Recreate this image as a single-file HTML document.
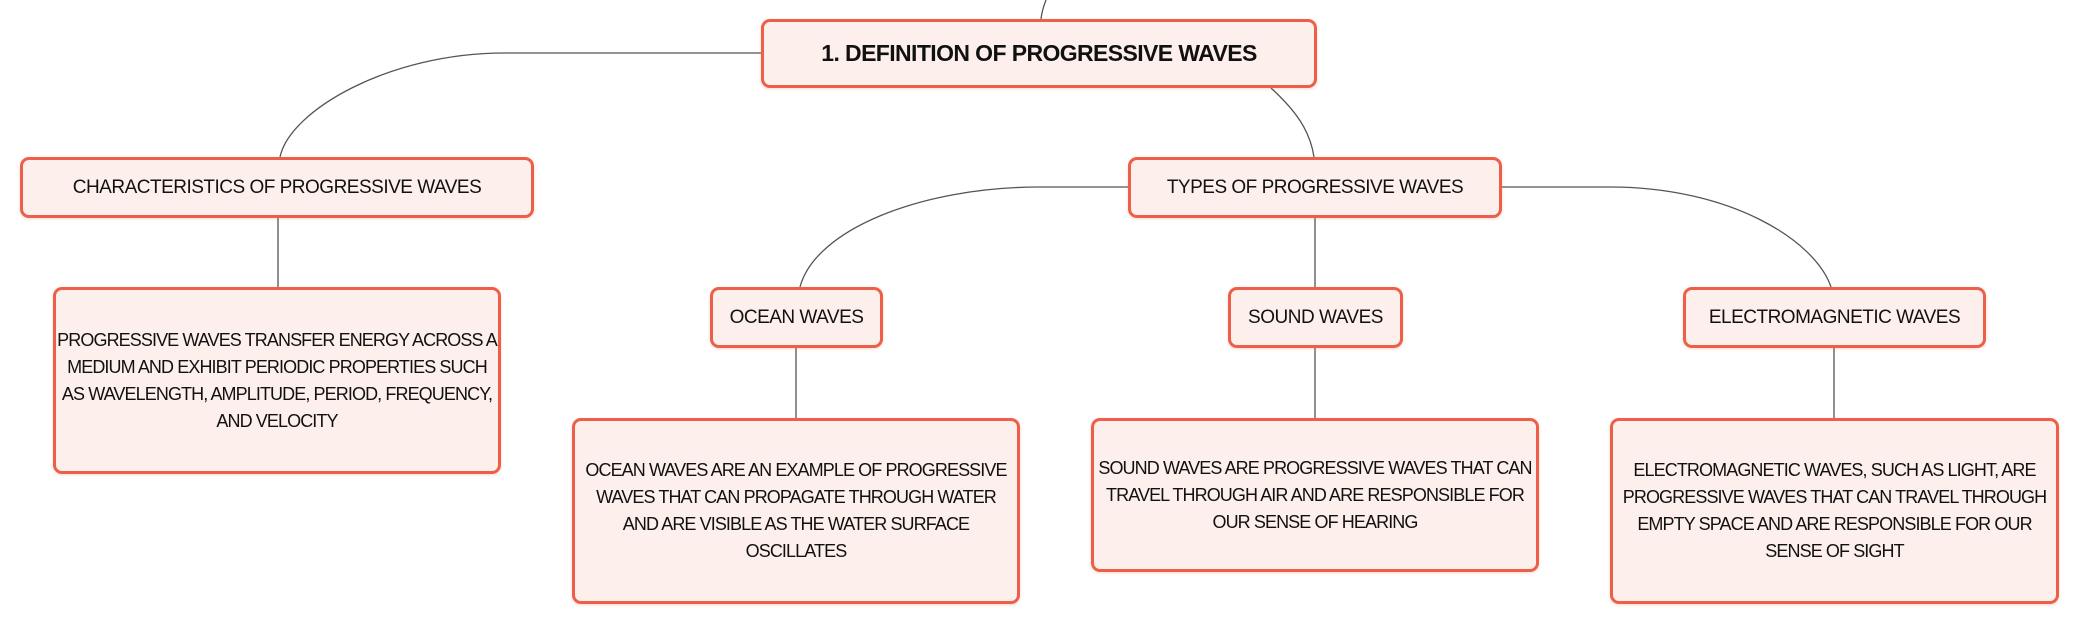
<!DOCTYPE html>
<html><head><meta charset="utf-8"><style>
html,body{margin:0;padding:0;background:#fff;}
body{width:2079px;height:624px;position:relative;overflow:hidden;font-family:"Liberation Sans",sans-serif;}
.b{position:absolute;box-sizing:border-box;border:3px solid #ec5f48;border-radius:9px;background:#fdf0ec;display:flex;align-items:center;justify-content:center;text-align:center;color:#111;font-size:19px;letter-spacing:-0.5px;line-height:27px;white-space:nowrap;box-shadow:0 1px 3px rgba(236,95,72,0.25);}
.d{font-size:18px;letter-spacing:-0.9px;}
.root{font-weight:bold;font-size:23px;letter-spacing:-0.6px;}
svg{position:absolute;left:0;top:0;}
</style></head><body>
<svg width="2079" height="624" fill="none" stroke="#555" stroke-width="1.3">
<path d="M1046 0 Q1042 10 1041 19"/>
<path d="M761 53 L504 53 C390 53 290 110 280 157"/>
<path d="M1271 88 C1295 110 1310 130 1314 157"/>
<path d="M278 218 L278 287"/>
<path d="M1128 187 L1040 187 C920 187 815 230 800 287"/>
<path d="M1315 218 L1315 287"/>
<path d="M1502 187 L1610 187 C1730 187 1815 240 1831 287"/>
<path d="M796 348 L796 418"/>
<path d="M1315 348 L1315 418"/>
<path d="M1834 348 L1834 418"/>
</svg>
<div class="b root" style="left:761px;top:19px;width:556px;height:69px;">1. DEFINITION OF PROGRESSIVE WAVES</div>
<div class="b" style="left:20px;top:157px;width:514px;height:61px;">CHARACTERISTICS OF PROGRESSIVE WAVES</div>
<div class="b d" style="left:53px;top:287px;width:448px;height:187px;">PROGRESSIVE WAVES TRANSFER ENERGY ACROSS A<br>MEDIUM AND EXHIBIT PERIODIC PROPERTIES SUCH<br>AS WAVELENGTH, AMPLITUDE, PERIOD, FREQUENCY,<br>AND VELOCITY</div>
<div class="b" style="left:1128px;top:157px;width:374px;height:61px;">TYPES OF PROGRESSIVE WAVES</div>
<div class="b" style="left:710px;top:287px;width:173px;height:61px;">OCEAN WAVES</div>
<div class="b" style="left:1228px;top:287px;width:175px;height:61px;">SOUND WAVES</div>
<div class="b" style="left:1683px;top:287px;width:303px;height:61px;">ELECTROMAGNETIC WAVES</div>
<div class="b d" style="left:572px;top:418px;width:448px;height:186px;">OCEAN WAVES ARE AN EXAMPLE OF PROGRESSIVE<br>WAVES THAT CAN PROPAGATE THROUGH WATER<br>AND ARE VISIBLE AS THE WATER SURFACE<br>OSCILLATES</div>
<div class="b d" style="left:1091px;top:418px;width:448px;height:154px;">SOUND WAVES ARE PROGRESSIVE WAVES THAT CAN<br>TRAVEL THROUGH AIR AND ARE RESPONSIBLE FOR<br>OUR SENSE OF HEARING</div>
<div class="b d" style="left:1610px;top:418px;width:449px;height:186px;">ELECTROMAGNETIC WAVES, SUCH AS LIGHT, ARE<br>PROGRESSIVE WAVES THAT CAN TRAVEL THROUGH<br>EMPTY SPACE AND ARE RESPONSIBLE FOR OUR<br>SENSE OF SIGHT</div>
</body></html>
